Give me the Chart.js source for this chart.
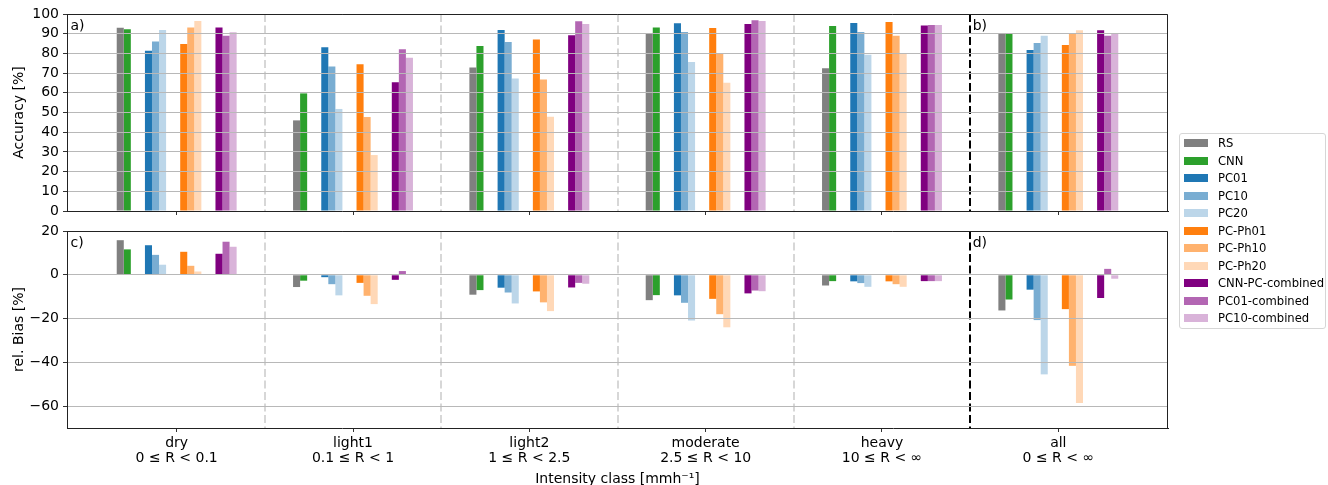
<!DOCTYPE html>
<html>
<head>
<meta charset="utf-8">
<script src="https://cdn.jsdelivr.net/npm/chart.js@4.4.1/dist/chart.umd.min.js"></script>
<style>
html,body{margin:0;padding:0;background:#fff;}
#wrap{position:relative;width:1328px;height:485px;overflow:hidden;font-family:"DejaVu Sans",sans-serif;background:#fff;}
#c1{position:absolute;left:0;top:0;}
#c2{position:absolute;left:0;top:216px;}
#legend{position:absolute;left:1179px;top:133px;width:147px;height:196px;box-sizing:border-box;border:1px solid #d6d6d6;border-radius:3px;background:#fff;}
.li{position:absolute;left:4px;height:17.5px;display:flex;align-items:center;font-size:11.6px;color:#000;white-space:nowrap;}
.sw{width:24px;height:8px;margin-right:10px;flex:none;}
</style>
</head>
<body>
<div id="wrap">
<canvas id="c1" width="1328" height="225"></canvas>
<canvas id="c2" width="1328" height="269"></canvas>
<div id="legend"></div>
</div>
<script>
// ---------------- data ----------------
const categories = ['dry', 'light1', 'light2', 'moderate', 'heavy', 'all'];
const classRanges = ['0 \u2264 R < 0.1', '0.1 \u2264 R < 1', '1 \u2264 R < 2.5', '2.5 \u2264 R < 10', '10 \u2264 R < \u221e', '0 \u2264 R < \u221e'];
const seriesNames = ['RS', 'CNN', 'PC01', 'PC10', 'PC20', 'PC-Ph01', 'PC-Ph10', 'PC-Ph20', 'CNN-PC-combined', 'PC01-combined', 'PC10-combined'];
const seriesColors = ['#808080', '#2ca02c', '#1f77b4', '#79add2', '#bcd6e9', '#ff7f0e', '#ffb26e', '#ffd8b7', '#800080', '#b366b3', '#d9b3d9'];

// Accuracy [%]
const accRS      = [93.0, 46.0, 72.9, 90.0, 72.4, 90.0];
const accCNN     = [92.2, 59.7, 83.8, 93.1, 93.9, 90.0];
const accPC01    = [81.4, 83.1, 91.9, 95.3, 95.4, 81.7];
const accPC10    = [86.1, 73.3, 85.8, 90.9, 90.9, 85.3];
const accPC20    = [91.9, 51.8, 67.3, 75.6, 79.3, 89.0];
const accPCPh01  = [84.8, 74.5, 87.1, 92.9, 95.9, 84.3];
const accPCPh10  = [93.1, 47.7, 66.8, 80.0, 89.0, 90.0];
const accPCPh20  = [96.4, 28.4, 47.9, 65.1, 80.0, 91.7];
const accCNNPC   = [93.2, 65.3, 89.2, 94.9, 94.1, 91.7];
const accPC01c   = [89.0, 82.1, 96.3, 96.8, 94.4, 89.0];
const accPC10c   = [90.7, 77.8, 94.9, 96.4, 94.4, 90.0];

// relative bias [%]
const biasRS     = [15.8, -5.6, -9.1, -11.6, -4.9, -16.3];
const biasCNN    = [11.6, -2.7, -7.0, -9.3, -2.9, -11.3];
const biasPC01   = [13.5, -1.1, -5.9, -9.4, -3.0, -6.8];
const biasPC10   = [9.1, -4.3, -8.1, -12.8, -3.8, -20.7];
const biasPC20   = [4.6, -9.4, -13.1, -20.9, -5.5, -45.5];
const biasPCPh01 = [10.5, -3.7, -7.6, -11.0, -3.0, -15.7];
const biasPCPh10 = [4.1, -9.6, -12.6, -18.0, -4.3, -41.6];
const biasPCPh20 = [1.5, -13.4, -16.6, -24.0, -5.5, -58.6];
const biasCNNPC  = [9.6, -2.3, -5.8, -8.5, -2.9, -10.6];
const biasPC01c  = [15.1, 1.7, -3.7, -7.2, -2.9, 2.7];
const biasPC10c  = [12.8, 0.3, -4.1, -7.5, -2.9, -1.8];

const accTicks  = [0, 10, 20, 30, 40, 50, 60, 70, 80, 90, 100];
const biasTicks = [-60, -40, -20, 0, 20];

const accSeries  = [accRS, accCNN, accPC01, accPC10, accPC20, accPCPh01, accPCPh10, accPCPh20, accCNNPC, accPC01c, accPC10c];
const biasSeries = [biasRS, biasCNN, biasPC01, biasPC10, biasPC20, biasPCPh01, biasPCPh10, biasPCPh20, biasCNNPC, biasPC01c, biasPC10c];

// slot layout inside each group (-1 = empty slot)
const slotOrder = [0, 1, -1, -1, 2, 3, 4, -1, -1, 5, 6, 7, -1, -1, 8, 9, 10];

// ---------------- helpers ----------------
const FONT = 'DejaVu Sans';

function buildDatasets(series) {
  return slotOrder.map(function (s) {
    if (s < 0) return { label: '', data: [], backgroundColor: 'rgba(0,0,0,0)', borderWidth: 0 };
    return {
      label: seriesNames[s],
      data: series[s].map(function (v, i) { return { x: i, y: v }; }),
      backgroundColor: seriesColors[s],
      borderWidth: 0
    };
  });
}

const decorPlugin = {
  id: 'decor',
  afterDatasetsDraw: function (chart) {
    const ctx = chart.ctx, a = chart.chartArea, xs = chart.scales.x;
    ctx.save();
    for (let i = 0; i < categories.length - 1; i++) {
      const x = Math.round(xs.getPixelForValue(i + 0.5));
      const last = (i === categories.length - 2);
      ctx.beginPath();
      ctx.setLineDash([8, 3.5]);
      ctx.lineWidth = last ? 2 : 1.8;
      ctx.strokeStyle = last ? '#000' : '#d3d3d3';
      ctx.moveTo(x, a.top);
      ctx.lineTo(x, a.bottom);
      ctx.stroke();
    }
    ctx.restore();
  },
  afterDraw: function (chart) {
    const ctx = chart.ctx, a = chart.chartArea, xs = chart.scales.x;
    const opt = chart.options.plugins.decor || {};
    ctx.save();
    ctx.strokeStyle = '#222';
    ctx.lineWidth = 1;
    ctx.setLineDash([]);
    ctx.beginPath();
    const t = Math.round(a.top) + 0.5, r = Math.round(a.right) - 0.5;
    ctx.moveTo(a.left, t); ctx.lineTo(r, t); ctx.lineTo(r, a.bottom);
    ctx.stroke();
    ctx.fillStyle = '#000';
    ctx.font = '14px "' + FONT + '"';
    ctx.textBaseline = 'alphabetic';
    ctx.textAlign = 'left';
    const by = a.top + 15.7;
    if (opt.left) ctx.fillText(opt.left, a.left + 3.5, by);
    if (opt.right) ctx.fillText(opt.right, xs.getPixelForValue(categories.length - 1.5) + 2.5, by);
    ctx.restore();
  }
};

function makeChart(canvasId, series, yMin, yMax, yTicks, yTitle, showX, padTop, xHeight, labels) {
  return new Chart(document.getElementById(canvasId), {
    type: 'bar',
    data: { datasets: buildDatasets(series) },
    options: {
      responsive: false,
      animation: false,
      devicePixelRatio: 1,
      layout: { padding: { top: padTop, right: 160, left: 0, bottom: 0 } },
      categoryPercentage: 0.68,
      barPercentage: 1.0,
      plugins: {
        legend: { display: false },
        tooltip: { enabled: false },
        decor: labels
      },
      scales: {
        x: {
          type: 'linear',
          min: -0.622,
          max: categories.length - 1 + 0.622,
          offset: false,
          afterBuildTicks: function (ax) { ax.ticks = categories.map(function (c, i) { return { value: i }; }); },
          afterFit: function (ax) { ax.height = xHeight; },
          grid: { offset: false, drawOnChartArea: false, drawTicks: true, tickLength: 4, tickColor: '#333', tickWidth: 1 },
          border: { display: true, color: '#222', width: 1, z: 2 },
          ticks: {
            display: showX,
            autoSkip: false,
            maxRotation: 0,
            padding: 3.3,
            color: '#000',
            font: { family: FONT, size: 14, lineHeight: 1.1 },
            callback: function (v) { return [categories[v], classRanges[v]]; }
          },
          title: {
            display: showX,
            text: 'Intensity class [mmh\u207b\u00b9]',
            color: '#000',
            font: { family: FONT, size: 14 },
            padding: { top: 0, bottom: -3 }
          }
        },
        y: {
          min: yMin,
          max: yMax,
          afterBuildTicks: function (ax) { ax.ticks = yTicks.map(function (v) { return { value: v }; }); },
          afterFit: function (ax) { ax.width = 67; },
          grid: { color: '#b8b8b8', lineWidth: 1, z: 1, drawTicks: true, tickLength: 4, tickColor: '#333' },
          border: { display: true, color: '#222', width: 1, z: 2 },
          ticks: {
            color: '#000', padding: 4, autoSkip: false,
            font: { family: FONT, size: 14 },
            callback: function (v) { return String(v).replace('-', '\u2212'); }
          },
          title: {
            display: true,
            text: yTitle,
            color: '#000',
            font: { family: FONT, size: 14 },
            padding: { top: 10.5, bottom: 0 }
          }
        }
      }
    },
    plugins: [decorPlugin]
  });
}

makeChart('c1', accSeries, 0, 100, accTicks, 'Accuracy [%]', false, 14, 14, { left: 'a)', right: 'b)' });
makeChart('c2', biasSeries, -70, 20, biasTicks, 'rel. Bias [%]', true, 15, 57, { left: 'c)', right: 'd)' });

// ---------------- legend ----------------
const leg = document.getElementById('legend');
seriesNames.forEach(function (name, i) {
  const row = document.createElement('div');
  row.className = 'li';
  row.style.top = (0.5 + i * 17.5) + 'px';
  const sw = document.createElement('span');
  sw.className = 'sw';
  sw.style.background = seriesColors[i];
  const tx = document.createElement('span');
  tx.textContent = name;
  row.appendChild(sw);
  row.appendChild(tx);
  leg.appendChild(row);
});
</script>
</body>
</html>
